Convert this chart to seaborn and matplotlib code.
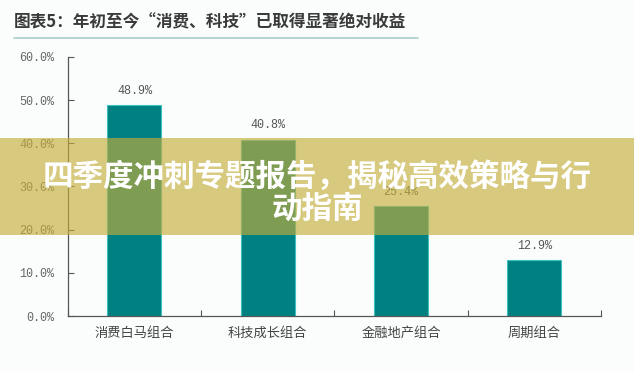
import matplotlib
matplotlib.use('Agg')
import matplotlib.pyplot as plt
import seaborn as sns
import pandas as pd
from matplotlib.patches import Rectangle
from matplotlib.lines import Line2D

# data
categories = ['消费白马组合', '科技成长组合', '金融地产组合', '周期组合']
returns = [48.9, 40.8, 25.4, 12.9]
yticks = [0, 10, 20, 30, 40, 50, 60]

title = '图表5：年初至今“消费、科技”已取得显著绝对收益'
banner_lines = ['四季度冲刺专题报告，揭秘高效策略与行', '动指南']

sns.set_theme(style='white')
plt.rcParams['font.family'] = ['Noto Sans CJK SC', 'DejaVu Sans']

df = pd.DataFrame({'cat': categories, 'ret': returns})

fig = plt.figure(figsize=(6.34, 3.72), dpi=100)
fig.patch.set_facecolor('#fbfdfd')
ax = fig.add_axes([0.107, 0.1505, 0.841, 0.6965])
ax.set_facecolor('#fbfdfd')

sns.barplot(data=df, x='cat', y='ret', ax=ax, color='#008080', width=0.405,
            edgecolor='#3cc0c0', linewidth=0.8, saturation=1)

ax.set_xlim(-0.5, 3.5)
ax.set_ylim(0, 60)
ax.set_xlabel('')
ax.set_ylabel('')

# value labels
for i, v in enumerate(returns):
    ax.annotate('%.1f%%' % v, (i, v), xytext=(0, 6), textcoords='offset points',
                ha='center', va='bottom', fontsize=8.5, color='#555555',
                family=['Liberation Mono', 'DejaVu Sans'])

# y axis
ax.set_yticks(yticks)
ax.set_yticklabels(['%.1f%%' % t for t in yticks], family=['Liberation Mono', 'DejaVu Sans'],
                   fontsize=8.5, color='#666666')
ax.tick_params(axis='y', direction='in', length=4, width=0.8, color='#555555', pad=10, left=True)

# x axis: labels at centers, ticks at boundaries
ax.set_xticks(range(len(categories)))
ax.set_xticklabels(categories, fontsize=9.5, color='#444444')
ax.tick_params(axis='x', length=0, pad=8)
ax.set_xticks([-0.5, 0.5, 1.5, 2.5, 3.5], minor=True)
ax.tick_params(axis='x', which='minor', direction='in', length=4, width=0.8, color='#555555',
               bottom=True)

for s in ['top', 'right']:
    ax.spines[s].set_visible(False)
for s in ['left', 'bottom']:
    ax.spines[s].set_color('#555555')
    ax.spines[s].set_linewidth(0.9)

# header
fig.text(14 / 634, 1 - 22 / 372, title, fontsize=12, color='#3a3a3a', fontweight='bold',
         ha='left', va='center')
fig.add_artist(Line2D([14 / 634, 418 / 634], [1 - 38 / 372] * 2, color='#a9cccc', lw=1.2))

# overlay banner
fig.patches.append(Rectangle((0, 1 - 235 / 372), 1, 97 / 372, transform=fig.transFigure,
                             facecolor='#c4ad3a', alpha=0.65, edgecolor='none', zorder=5))
fig.text(0.5, 1 - 177 / 372, banner_lines[0], fontsize=22, color='white', fontweight='heavy',
         ha='center', va='center', zorder=6)
fig.text(0.5, 1 - 209 / 372, banner_lines[1], fontsize=22, color='white', fontweight='heavy',
         ha='center', va='center', zorder=6)

fig.savefig('out.png', dpi=100)
